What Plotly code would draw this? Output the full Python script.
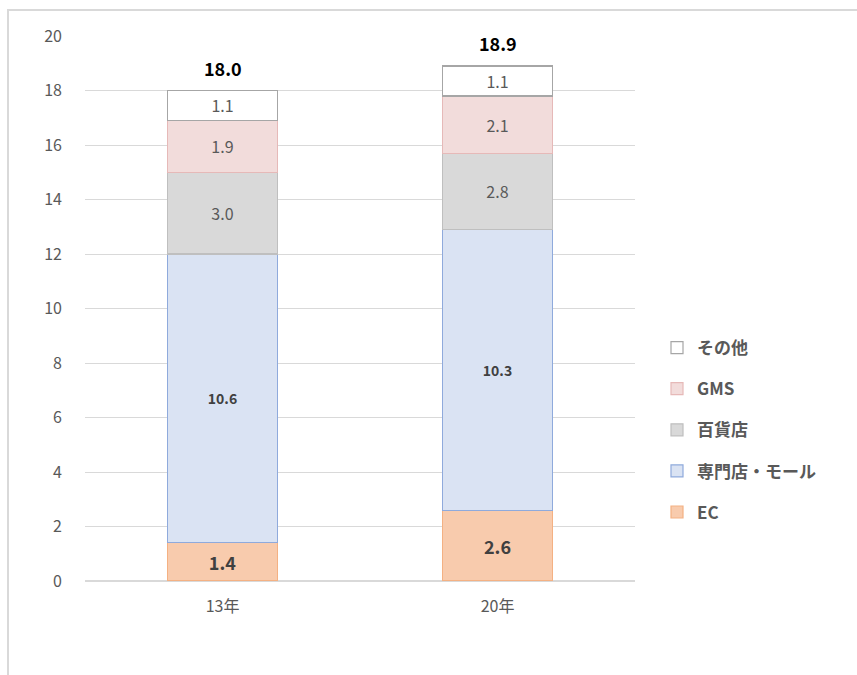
import plotly.graph_objects as go

categories = ["13年", "20年"]
series_names = ["EC", "専門店・モール", "百貨店", "GMS", "その他"]
ec = [1.4, 2.6]
senmon = [10.6, 10.3]
hyakka = [3.0, 2.8]
gms = [1.9, 2.1]
other = [1.1, 1.1]
totals = [18.0, 18.9]

values = [ec, senmon, hyakka, gms, other]
fills = ["#F8CBAD", "#DAE3F3", "#D9D9D9", "#F2DCDB", "#FFFFFF"]
lines = ["#F4B183", "#8FAADC", "#BFBFBF", "#E6B9B8", "#A6A6A6"]
tfonts = [
    dict(size=18, color="#404040", family="Noto Sans CJK JP", weight="bold"),
    dict(size=14, color="#404040", family="Noto Sans CJK JP", weight="bold"),
    dict(size=16, color="#595959", family="Noto Sans CJK JP"),
    dict(size=16, color="#595959", family="Noto Sans CJK JP"),
    dict(size=16, color="#595959", family="Noto Sans CJK JP"),
]

fig = go.Figure()
for i, (name, v, fc, lc, tf) in enumerate(zip(series_names, values, fills, lines, tfonts)):
    fig.add_trace(go.Bar(
        x=categories, y=v, name=name, legendgroup=name, legendrank=100 - i,
        marker=dict(color=fc, line=dict(color=lc, width=1.2)),
        text=v, texttemplate="%{y:.1f}", textposition="inside",
        insidetextanchor="middle", textfont=tf, constraintext="none",
        textangle=0, hoverinfo="skip",
    ))

for c, t in zip(categories, totals):
    fig.add_annotation(x=c, y=t, text=f"<b>{t:.1f}</b>", showarrow=False,
                       yanchor="bottom", yshift=8,
                       font=dict(size=18, color="#000000", family="Noto Sans CJK JP"))

# outer frame
fig.add_shape(type="rect", xref="paper", yref="paper",
              x0=-0.14, x1=1.5, y0=-0.2, y1=1.0477,
              line=dict(color="#D9D9D9", width=2), fillcolor="rgba(0,0,0,0)", layer="below")

fig.update_layout(
    width=857, height=675,
    margin=dict(l=85, r=222, t=36, b=94),
    barmode="stack", bargap=0.6,
    plot_bgcolor="white", paper_bgcolor="white",
    font=dict(family="Noto Sans CJK JP", color="#595959"),
    showlegend=True,
    legend=dict(traceorder="grouped", x=1.04, y=0.277, yanchor="middle", xanchor="left",
                font=dict(size=17, color="#595959", weight="bold"),
                tracegroupgap=16, itemwidth=30, bgcolor="rgba(0,0,0,0)"),
    xaxis=dict(showline=False, ticks="", tickfont=dict(size=16, color="#595959"),
               ticklabelstandoff=14),
    yaxis=dict(range=[0, 20], dtick=2, gridcolor="#D9D9D9", gridwidth=1,
               zeroline=True, zerolinecolor="#D9D9D9", showline=False,
               tickfont=dict(size=16, color="#595959"), ticklabelstandoff=22),
)

fig.write_html("out.html")
